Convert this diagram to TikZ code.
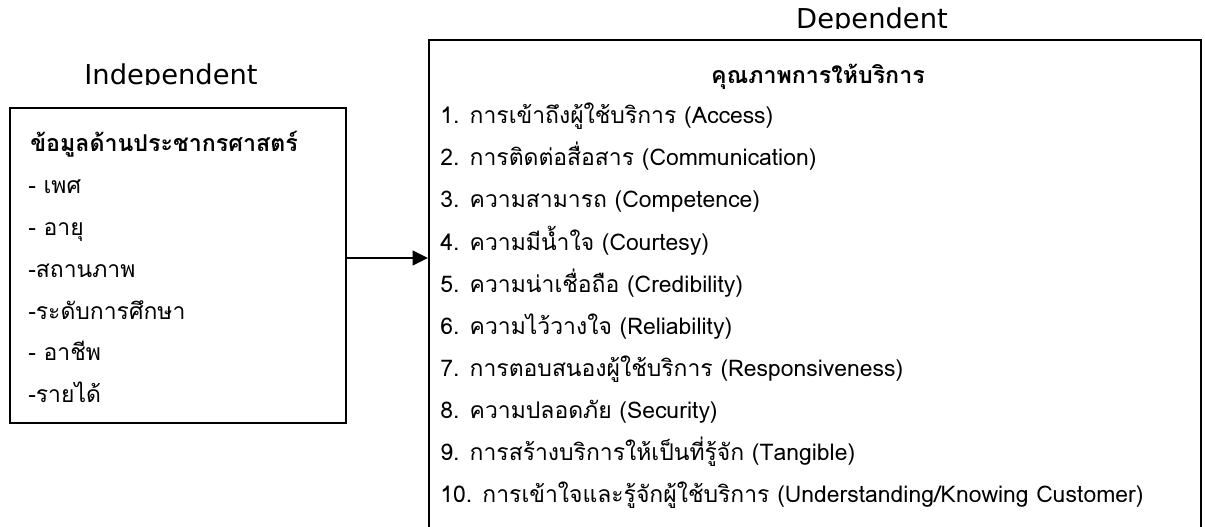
\documentclass[tikz,border=0pt]{standalone}
\usepackage{fontspec}
\setmainfont[Script=Thai]{Loma}
\newfontfamily\latlabel{DejaVu Sans}
\usetikzlibrary{arrows.meta}
\begin{document}
\begin{tikzpicture}[x=0.75pt,y=-0.75pt,
  boxline/.style={draw=black,line width=1.5pt,inner sep=0pt,anchor=north west},
  txt/.style={anchor=base west,inner sep=0pt,font=\fontsize{17.2}{20}\selectfont},
  ttl/.style={inner sep=0pt,font=\fontsize{17.4}{20}\selectfont\bfseries},
  lbl/.style={inner sep=0pt,anchor=base,font=\latlabel\fontsize{20.5}{24}\selectfont},
  conn/.style={draw=black,line width=1.3pt,-{Triangle[length=11.5pt,width=11pt]}}]
\useasboundingbox (0,0) rectangle (1205,527);
\clip (0,0) rectangle (1205,527);
% boxes
\node[boxline,minimum width=252pt,minimum height=236.25pt] (lb) at (9,107) {};
\node[boxline,minimum width=579pt,minimum height=390pt] (rb) at (428,39) {};
% column labels (clipped at the bottom as in the source)
\begin{scope}
\clip (0,0) rectangle (1205,85);
\node[lbl] (indep) at (171,85) {Independent};
\end{scope}
\begin{scope}
\clip (0,0) rectangle (1205,29);
\node[lbl] (dep) at (872,29) {Dependent};
\end{scope}
% left box text
\node[ttl,anchor=base west] (lt) at (30,152) {ข้อมูลด้านประชากรศาสตร์};
\node[txt] (l1) at (28,194) {- เพศ};
\node[txt] (l2) at (28,236) {- อายุ};
\node[txt] (l3) at (28,277) {-สถานภาพ};
\node[txt] (l4) at (28,319) {-ระดับการศึกษา};
\node[txt] (l5) at (28,360) {- อาชีพ};
\node[txt] (l6) at (28,402) {-รายได้};
% right box text
\node[ttl,anchor=base] (rt) at (818,84) {คุณภาพการให้บริการ};
\node[txt] (r1) at (440,124) {1. การเข้าถึงผู้ใช้บริการ (Access)};
\node[txt] (r2) at (440,166) {2. การติดต่อสื่อสาร (Communication)};
\node[txt] (r3) at (440,208) {3. ความสามารถ (Competence)};
\node[txt] (r4) at (440,250) {4. ความมีน้ำใจ (Courtesy)};
\node[txt] (r5) at (440,292) {5. ความน่าเชื่อถือ (Credibility)};
\node[txt] (r6) at (440,334) {6. ความไว้วางใจ (Reliability)};
\node[txt] (r7) at (440,376) {7. การตอบสนองผู้ใช้บริการ (Responsiveness)};
\node[txt] (r8) at (440,418) {8. ความปลอดภัย (Security)};
\node[txt] (r9) at (440,460) {9. การสร้างบริการให้เป็นที่รู้จัก (Tangible)};
\node[txt] (r10) at (440,502) {10. การเข้าใจและรู้จักผู้ใช้บริการ (Understanding/Knowing Customer)};
% connector
\coordinate (ay) at (0,258);
\draw[conn] (lb.east |- ay) -- (rb.west |- ay);
\end{tikzpicture}
\end{document}
